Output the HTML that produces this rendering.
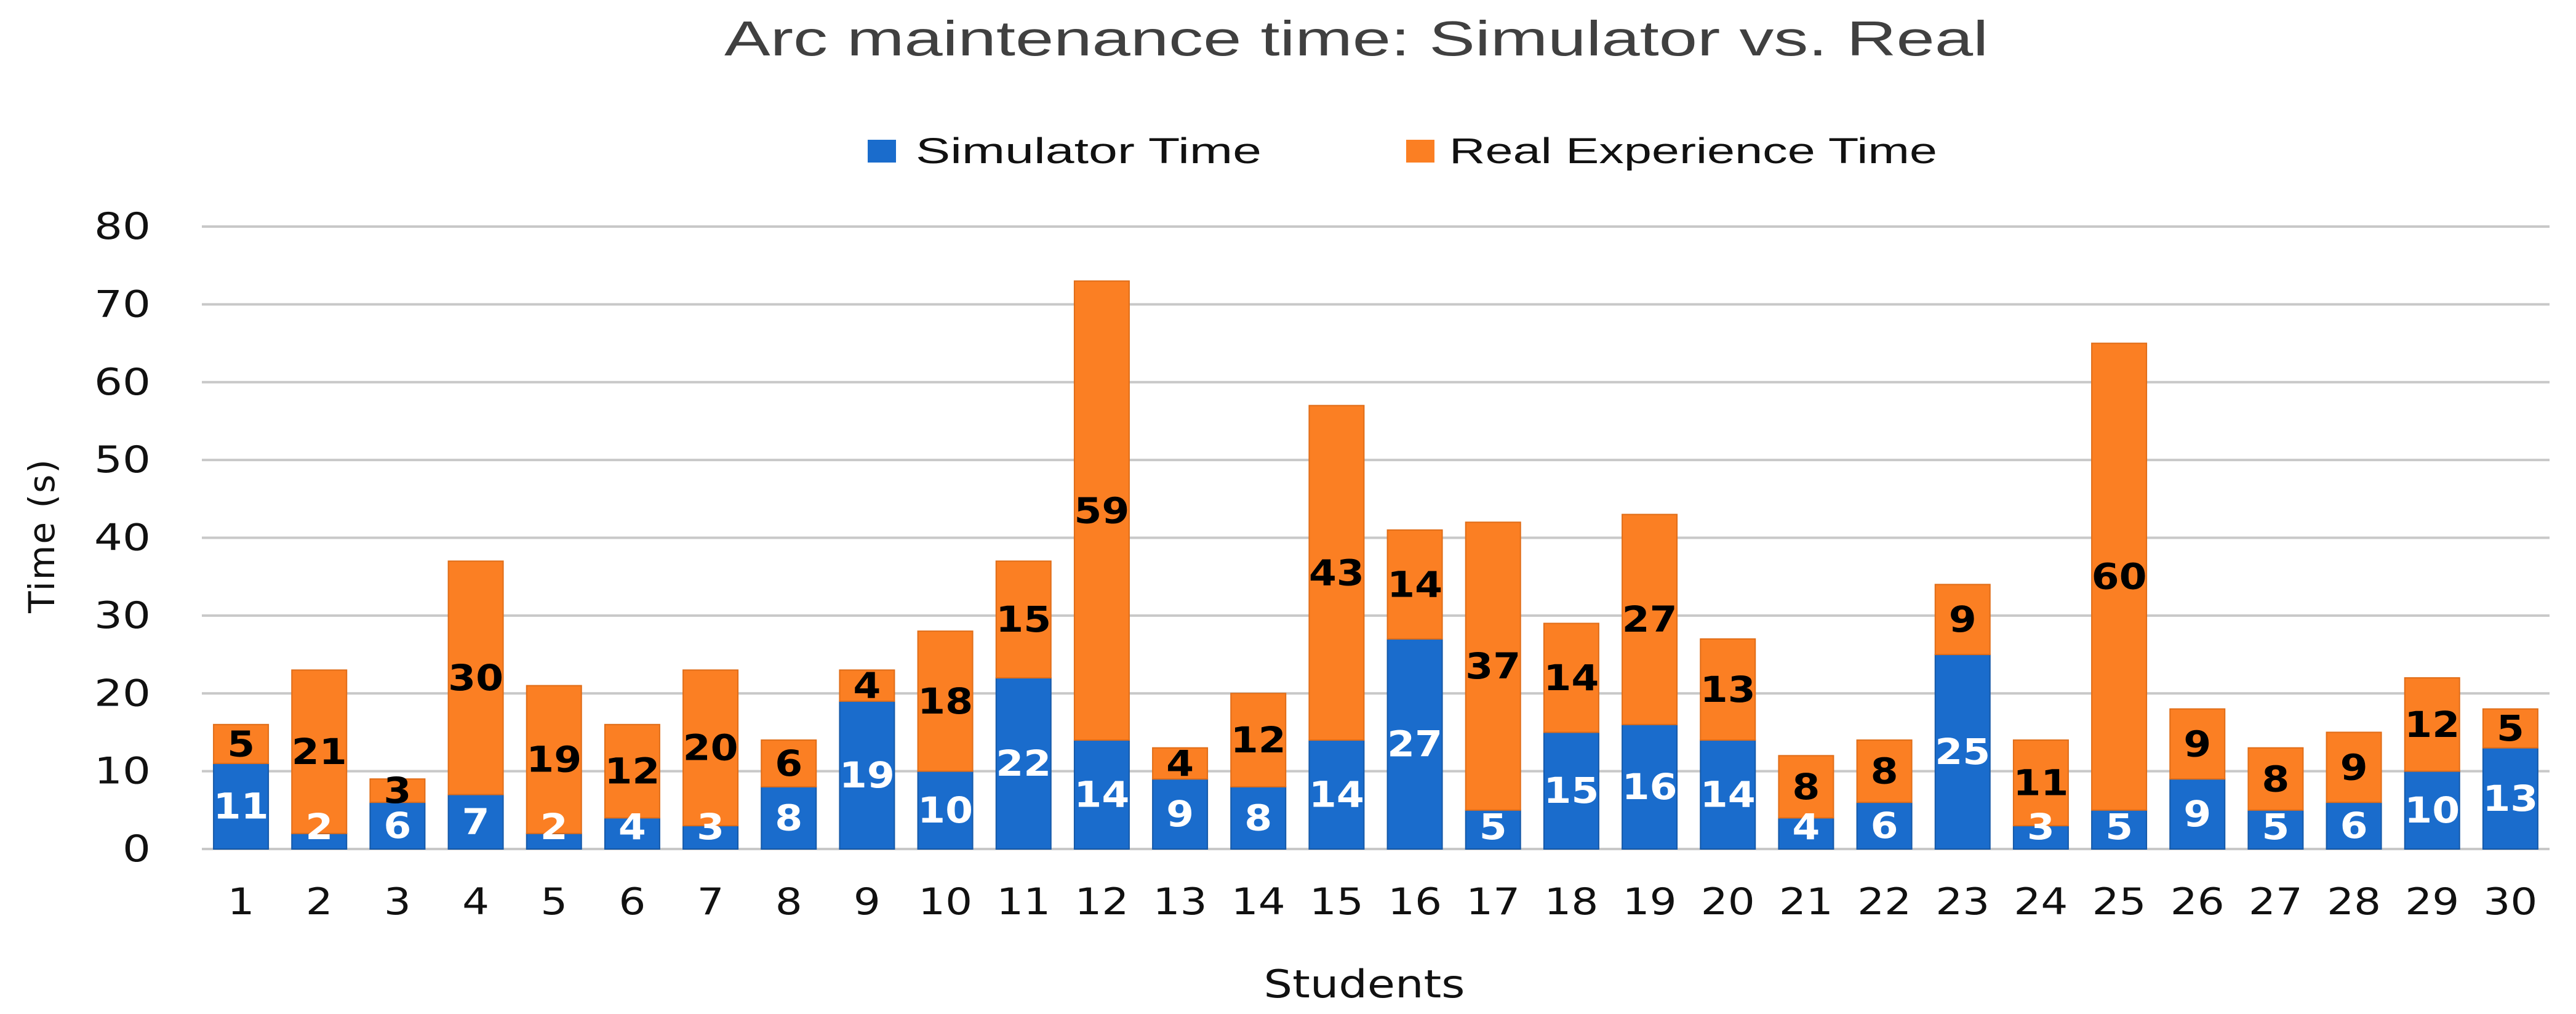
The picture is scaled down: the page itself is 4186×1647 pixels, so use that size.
<!DOCTYPE html>
<html><head><meta charset="utf-8"><style>
html,body{margin:0;padding:0;background:#fff}
svg{display:block}
</style></head><body>
<svg id="chart" width="4186" height="1647" viewBox="0 0 4186 1647" xmlns="http://www.w3.org/2000/svg">
<rect width="4186" height="1647" fill="#fff"/>
<text x="1177" y="90" font-family="Liberation Sans, sans-serif" font-size="80" fill="#404040" textLength="2054" lengthAdjust="spacingAndGlyphs">Arc maintenance time: Simulator vs. Real</text>
<g>
<g>
<rect x="1410" y="227" width="46" height="37" fill="#1a6ccc"/>
<text x="1488" y="265" font-family="Liberation Sans, sans-serif" font-size="58" fill="#111" textLength="562" lengthAdjust="spacingAndGlyphs">Simulator Time</text>
</g>
<g>
<rect x="2285" y="227" width="46" height="37" fill="#fb7f23"/>
<text x="2355" y="265" font-family="Liberation Sans, sans-serif" font-size="58" fill="#111" textLength="793" lengthAdjust="spacingAndGlyphs">Real Experience Time</text>
</g>
</g>
<text transform="translate(88,870) rotate(-90)" text-anchor="middle" font-family="DejaVu Sans, sans-serif" font-size="58" fill="#111" letter-spacing="2">Time (s)</text>
<text x="2217" y="1620" text-anchor="middle" font-family="DejaVu Sans, sans-serif" font-size="62" fill="#111" textLength="327" lengthAdjust="spacingAndGlyphs">Students</text>
<g id="grid"></g><g id="bars"></g><g id="labels"></g>
</svg>
<script>
const categories = ["1","2","3","4","5","6","7","8","9","10","11","12","13","14","15","16","17","18","19","20","21","22","23","24","25","26","27","28","29","30"];
const simulatorTime = [11,2,6,7,2,4,3,8,19,10,22,14,9,8,14,27,5,15,16,14,4,6,25,3,5,9,5,6,10,13];
const realTime = [5,21,3,30,19,12,20,6,4,18,15,59,4,12,43,14,37,14,27,13,8,8,9,11,60,9,8,9,12,5];
const yTicks = [0,10,20,30,40,50,60,70,80];

const NS = "http://www.w3.org/2000/svg";
const X0 = 328, X1 = 4143, Y0 = 1379, Y80 = 368, YMAX = 80;
const slot = (X1 - X0) / categories.length, BW = 89;
function yScale(v){ return Y0 - (v / YMAX) * (Y0 - Y80); }
function xCenter(i){ return X0 + slot * (i + 0.5); }
function mk(tag, attrs, parent){ const e = document.createElementNS(NS, tag); for (const k in attrs) e.setAttribute(k, attrs[k]); parent.appendChild(e); return e; }

const grid = document.getElementById('grid'), bars = document.getElementById('bars'), labels = document.getElementById('labels');
yTicks.forEach(t => {
  const l = mk('line', {x1: X0, x2: X1, y1: yScale(t), y2: yScale(t), stroke: '#c8c8c8', 'stroke-width': 4}, grid);
  
  
  const s = String(t);
  const tx = mk('text', {x: 245, y: yScale(t), 'text-anchor': 'end', 'dominant-baseline': 'central', 'font-family': 'DejaVu Sans, sans-serif', 'font-size': 60, fill: '#111', textLength: s.length * 46, lengthAdjust: 'spacingAndGlyphs'}, grid);
  tx.textContent = s;
  
  
});
categories.forEach((c, i) => {
  const cx = xCenter(i), s = simulatorTime[i], r = realTime[i];
  const b1 = mk('rect', {x: cx - BW/2, y: yScale(s), width: BW, height: Y0 - yScale(s), fill: '#1a6ccc', stroke: '#1559a8', 'stroke-width': 2}, bars);
  
  
  const b2 = mk('rect', {x: cx - BW/2, y: yScale(s + r), width: BW, height: yScale(s) - yScale(s + r), fill: '#fb7f23', stroke: '#e06d18', 'stroke-width': 2}, bars);
  
  
  const ly1 = Math.min((Y0 + yScale(s)) / 2, Y0 - 36);
  const s1 = String(s), s2 = String(r);
  const t1 = mk('text', {x: cx, y: ly1, 'text-anchor': 'middle', 'dominant-baseline': 'central', 'font-family': 'DejaVu Sans, sans-serif', 'font-weight': 'bold', 'font-size': 58, fill: '#fff', textLength: Math.min(s1.length * 45, 90), lengthAdjust: 'spacingAndGlyphs'}, labels);
  t1.textContent = s1;
  
  
  const t2 = mk('text', {x: cx, y: (yScale(s) + yScale(s + r)) / 2, 'text-anchor': 'middle', 'dominant-baseline': 'central', 'font-family': 'DejaVu Sans, sans-serif', 'font-weight': 'bold', 'font-size': 58, fill: '#000', textLength: Math.min(s2.length * 45, 90), lengthAdjust: 'spacingAndGlyphs'}, labels);
  t2.textContent = s2;
  
  
  const xl = mk('text', {x: cx, y: 1485, 'text-anchor': 'middle', 'font-family': 'DejaVu Sans, sans-serif', 'font-size': 60, fill: '#111', textLength: c.length * 44, lengthAdjust: 'spacingAndGlyphs'}, labels);
  xl.textContent = c;
  
  
});
</script>
</body></html>
